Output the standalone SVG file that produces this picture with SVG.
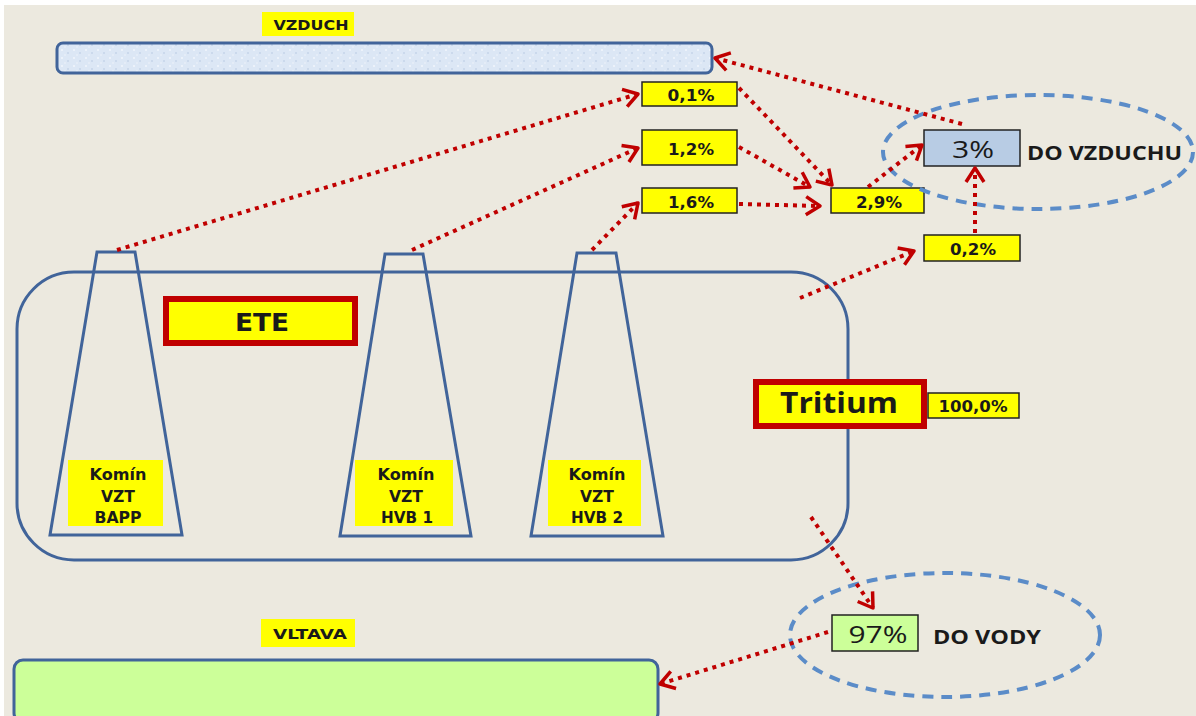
<svg xmlns="http://www.w3.org/2000/svg" width="1196" height="716" viewBox="0 0 1196 716">
<defs>
<style>
.bg{fill:#ECE9DF}
.lbl{fill:#FFFF00}
.t{font-family:"DejaVu Sans",Verdana,sans-serif;font-weight:bold;fill:#1a1a1a;text-anchor:middle}
.pct{fill:#FFFF00;stroke:#222;stroke-width:1.5}
.pt{font-family:"DejaVu Sans",Verdana,sans-serif;font-weight:bold;font-size:15px;fill:#1a1a1a;text-anchor:middle}
.big{font-family:"Open Sans","Liberation Sans",sans-serif;fill:#1a1a1a;text-anchor:middle}
.side{font-family:"Open Sans","Liberation Sans",sans-serif;font-weight:bold;font-size:19px;fill:#1a1a1a}
.blue{fill:none;stroke:#41649A;stroke-width:3}
.red{fill:#FFFF00;stroke:#C00000;stroke-width:6}
.ell{fill:none;stroke:#5B8CC8;stroke-width:4;stroke-dasharray:11 8}
.arr{fill:none;stroke:#C00000;stroke-width:4;stroke-dasharray:4 5;marker-end:url(#ah)}
</style>
<marker id="ah" markerUnits="userSpaceOnUse" markerWidth="24" markerHeight="24" refX="20" refY="12" orient="auto">
<path d="M6,3 L20,12 L6,21" fill="none" stroke="#C00000" stroke-width="3.5" stroke-linejoin="round"/>
</marker>
<pattern id="tex" width="12" height="8" patternUnits="userSpaceOnUse">
<rect width="12" height="8" fill="#DCE7F5"/>
<circle cx="2" cy="2" r="1" fill="#F2F6FC"/>
<circle cx="8" cy="5" r="1" fill="#C6D5EA"/>
<circle cx="5" cy="7" r="0.8" fill="#EEF3FA"/>
</pattern>
</defs>
<rect x="0" y="0" width="1196" height="716" fill="#FFFFFF"/>
<rect x="4" y="5" width="1192" height="711" class="bg"/>

<g id="vzduch">
<rect x="262" y="12" width="92" height="24" class="lbl"/>
<text x="311" y="30" class="t" font-size="14" textLength="75" lengthAdjust="spacingAndGlyphs">VZDUCH</text>
<rect x="57" y="43" width="655" height="30" rx="6" fill="url(#tex)" stroke="#41649A" stroke-width="3"/>
</g>

<g id="ete">
<rect x="17" y="272" width="831" height="288" rx="57" class="blue"/>
<rect x="166" y="299" width="189" height="44" class="red"/>
<text x="262" y="331" class="t" font-size="25" textLength="54" lengthAdjust="spacingAndGlyphs">ETE</text>
</g>

<g id="komin-bapp">
<path d="M97,252 L135,252 L182,535 L50,535 Z" class="blue"/>
<rect x="68" y="460" width="95" height="66" class="lbl"/>
<text x="118" y="480" class="t" font-size="15" textLength="57" lengthAdjust="spacingAndGlyphs">Komín</text>
<text x="118" y="502" class="t" font-size="15" textLength="34" lengthAdjust="spacingAndGlyphs">VZT</text>
<text x="118" y="523" class="t" font-size="15" textLength="47" lengthAdjust="spacingAndGlyphs">BAPP</text>
</g>
<g id="komin-hvb1">
<path d="M385,254 L423,254 L471,536 L340,536 Z" class="blue"/>
<rect x="355" y="460" width="98" height="66" class="lbl"/>
<text x="406" y="480" class="t" font-size="15" textLength="57" lengthAdjust="spacingAndGlyphs">Komín</text>
<text x="406" y="502" class="t" font-size="15" textLength="34" lengthAdjust="spacingAndGlyphs">VZT</text>
<text x="407" y="523" class="t" font-size="15" textLength="52" lengthAdjust="spacingAndGlyphs">HVB 1</text>
</g>
<g id="komin-hvb2">
<path d="M577,253 L616,253 L663,536 L531,536 Z" class="blue"/>
<rect x="548" y="460" width="93" height="66" class="lbl"/>
<text x="597" y="480" class="t" font-size="15" textLength="57" lengthAdjust="spacingAndGlyphs">Komín</text>
<text x="597" y="502" class="t" font-size="15" textLength="34" lengthAdjust="spacingAndGlyphs">VZT</text>
<text x="597" y="523" class="t" font-size="15" textLength="52" lengthAdjust="spacingAndGlyphs">HVB 2</text>
</g>

<g id="tritium">
<rect x="756" y="382" width="168" height="44" class="red"/>
<text x="839" y="413" class="big" font-size="28" font-weight="bold" textLength="118" lengthAdjust="spacingAndGlyphs">Tritium</text>
<rect x="928" y="393" width="91" height="25" class="pct"/>
<text x="973" y="412" class="pt" font-size="14" textLength="69" lengthAdjust="spacingAndGlyphs">100,0%</text>
</g>

<g id="p01"><rect x="642" y="82" width="95" height="24" class="pct"/><text x="691" y="101" class="pt" textLength="47" lengthAdjust="spacingAndGlyphs">0,1%</text></g>
<g id="p12"><rect x="642" y="130" width="95" height="35" class="pct"/><text x="691" y="155" class="pt" textLength="46" lengthAdjust="spacingAndGlyphs">1,2%</text></g>
<g id="p16"><rect x="642" y="188" width="95" height="25" class="pct"/><text x="691" y="208" class="pt" textLength="46" lengthAdjust="spacingAndGlyphs">1,6%</text></g>
<g id="p29"><rect x="831" y="188" width="93" height="25" class="pct"/><text x="879" y="208" class="pt" textLength="46" lengthAdjust="spacingAndGlyphs">2,9%</text></g>
<g id="p02"><rect x="924" y="235" width="96" height="26" class="pct"/><text x="973" y="255" class="pt" textLength="46" lengthAdjust="spacingAndGlyphs">0,2%</text></g>

<g id="do-vzduchu">
<ellipse cx="1038" cy="152" rx="155" ry="57" class="ell"/>
<rect x="924" y="130" width="96" height="36" fill="#B8CCE4" stroke="#222" stroke-width="1.5"/>
<text x="973" y="158" class="big" font-size="24" textLength="42" lengthAdjust="spacingAndGlyphs">3%</text>
<text x="1027" y="160" class="side" textLength="155" lengthAdjust="spacingAndGlyphs">DO VZDUCHU</text>
</g>

<g id="do-vody">
<ellipse cx="945" cy="635" rx="155" ry="62" class="ell"/>
<rect x="832" y="615" width="86" height="36" fill="#CCFF99" stroke="#222" stroke-width="1.5"/>
<text x="878" y="643" class="big" font-size="24" textLength="59" lengthAdjust="spacingAndGlyphs">97%</text>
<text x="933" y="644" class="side" textLength="108" lengthAdjust="spacingAndGlyphs">DO VODY</text>
</g>

<g id="vltava">
<rect x="261" y="619" width="94" height="28" class="lbl"/>
<text x="310" y="639" class="t" font-size="14" textLength="74" lengthAdjust="spacingAndGlyphs">VLTAVA</text>
<rect x="14" y="660" width="644" height="62" rx="9" fill="#CCFF99" stroke="#41649A" stroke-width="3"/>
</g>

<g id="connectors">
<path d="M117,250 L638,94" class="arr"/>
<path d="M412,250 L638,148" class="arr"/>
<path d="M592,250 L638,203" class="arr"/>
<path d="M739,88 L832,185" class="arr"/>
<path d="M739,147 L810,187" class="arr"/>
<path d="M739,204 L820,206" class="arr"/>
<path d="M868,187 L922,145" class="arr"/>
<path d="M975,233 L975,168" class="arr"/>
<path d="M962,124 L715,58" class="arr"/>
<path d="M800,298 L914,251" class="arr"/>
<path d="M811,517 L873,608" class="arr"/>
<path d="M828,632 L660,684" class="arr"/>
</g>
</svg>
